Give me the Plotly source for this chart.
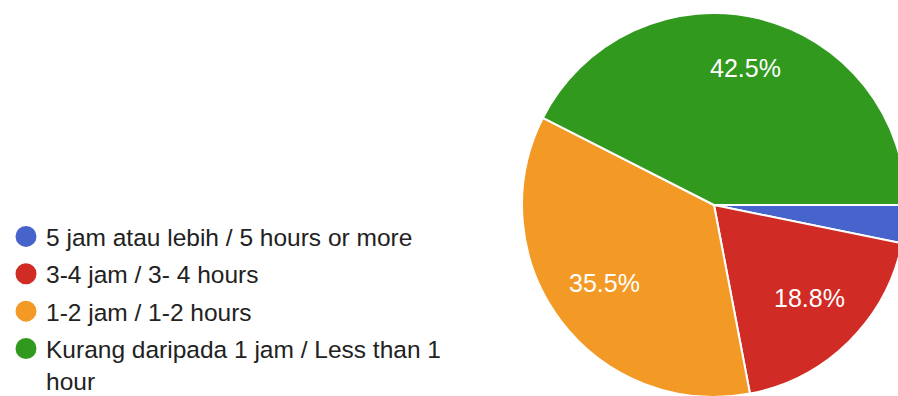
import math
import plotly.graph_objects as go

# Survey answers: daily hours, in the order the slices run clockwise from 3 o'clock
categories = [
    "5 jam atau lebih / 5 hours or more",
    "3-4 jam / 3- 4 hours",
    "1-2 jam / 1-2 hours",
    "Kurang daripada 1 jam / Less than 1<br>hour",
]
shares = [3.2, 18.8, 35.5, 42.5]
colors = ["#4763cc", "#d02b24", "#f39a26", "#30991e"]

W, H = 910, 440
cx, cy, r = 714, 205, 192
start_deg = 0.0          # first slice begins at 3 o'clock
label_frac = 0.71        # percentage labels sit at this fraction of the radius
min_label_share = 5.0    # slices smaller than this get no label

fig = go.Figure()

fig.add_trace(go.Pie(
    labels=categories,
    values=shares,
    sort=False,
    direction="clockwise",
    rotation=90 - start_deg,
    marker=dict(colors=colors, line=dict(color="white", width=2)),
    textinfo="none",
    hoverinfo="label+percent",
    showlegend=False,
    domain=dict(x=[(cx - r) / W, (cx + r) / W],
                y=[(H - (cy + r)) / H, (H - (cy - r)) / H]),
))

# Percentage labels placed along each slice's bisector
total = sum(shares)
acc = 0.0
for v in shares:
    mid = start_deg - 360.0 * (acc + v / 2) / total
    acc += v
    if v < min_label_share:
        continue
    rr = r * label_frac
    px = cx + rr * math.cos(math.radians(mid))
    py = cy - rr * math.sin(math.radians(mid))
    fig.add_annotation(
        x=px / W, y=(H - py) / H, xref="paper", yref="paper",
        text=f"{100 * v / total:.1f}%", showarrow=False,
        xanchor="center", yanchor="middle", yshift=4,
        font=dict(family="Liberation Sans, Arial, sans-serif", size=25, color="white"),
    )

# Legend entries with round swatches
for name, col in zip(categories, colors):
    fig.add_trace(go.Scatter(
        x=[None], y=[None], mode="markers", name=name, legendgroup=name,
        marker=dict(symbol="circle", size=16, color=col, line=dict(color=col, width=5)),
        showlegend=True,
    ))

fig.update_layout(
    width=W, height=H,
    margin=dict(l=0, r=0, t=0, b=0),
    paper_bgcolor="white", plot_bgcolor="white",
    xaxis=dict(visible=False), yaxis=dict(visible=False),
    legend=dict(
        x=6 / W, xanchor="left", y=(H - 214) / H, yanchor="top",
        font=dict(family="Liberation Sans, Arial, sans-serif", size=24.5, color="#222222"),
        bgcolor="rgba(0,0,0,0)", traceorder="grouped", tracegroupgap=2.5,
        valign="top",
    ),
)

fig.write_html(
    "out.html",
    post_script="document.documentElement.style.overflow='hidden';document.body.style.overflow='hidden';document.body.style.margin='0';",
)
